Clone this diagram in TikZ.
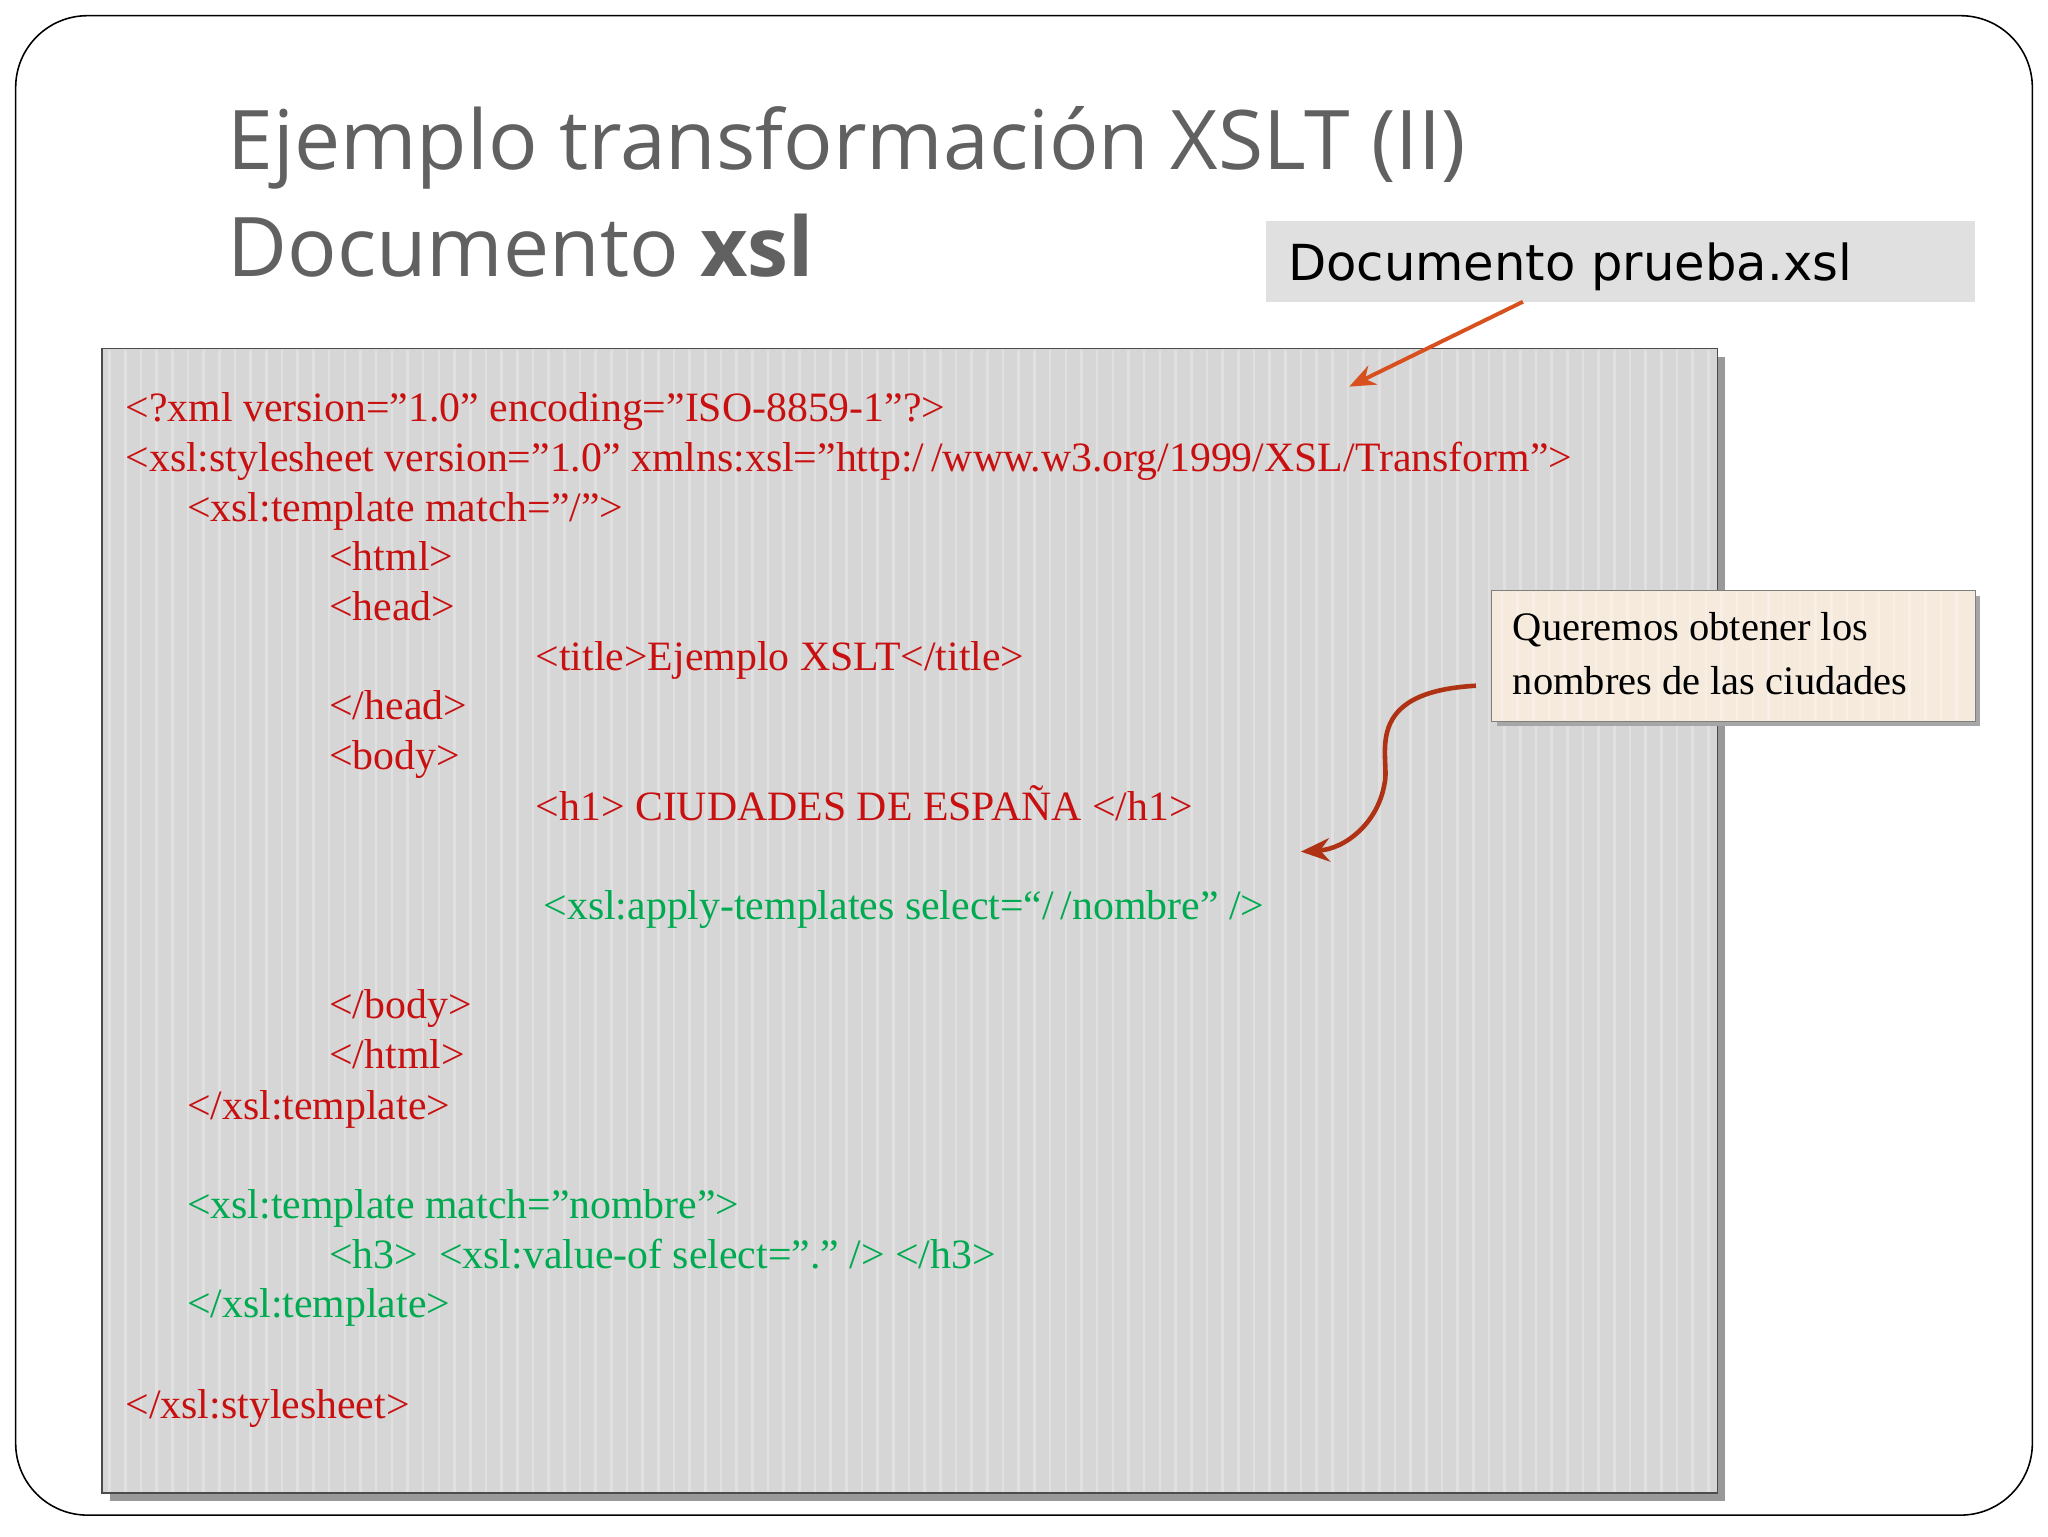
\documentclass[tikz,border=0pt]{standalone}
\usepackage{fontspec}
\setmainfont{Liberation Serif}[Ligatures=ResetAll]
\newfontfamily\titlefont{Open Sans}
\newfontfamily\boxfont{DejaVu Sans}
\usetikzlibrary{arrows.meta}
\definecolor{codered}{RGB}{200,16,16}
\definecolor{codegreen}{RGB}{0,170,80}
\definecolor{arrorange}{RGB}{215,80,30}
\definecolor{arrdark}{RGB}{175,50,20}
\definecolor{beige}{RGB}{245,234,220}
\begin{document}
\begin{tikzpicture}[x=1pt,y=-1pt,
  code/.style={anchor=base west,inner sep=0pt,font=\fontsize{32}{34}\selectfont},
  red/.style={code,text=codered},
  grn/.style={code,text=codegreen}]
\useasboundingbox (0,0) rectangle (1568,1176);
\fill[white] (0,0) rectangle (1568,1176);
\draw[line width=1.2pt,rounded corners=55pt] (12,12) rectangle (1556,1160);
\node[anchor=base west,inner sep=0pt,text=black!62,font=\titlefont\fontsize{63}{70}\selectfont] (t1) at (174,130) {Ejemplo transformación XSLT (II)};
\node[anchor=base west,inner sep=0pt,text=black!62,font=\titlefont\fontsize{63}{70}\selectfont] (t2) at (174,212) {Documento \textbf{xsl}};
% code box
\fill[black!40] (84,273) rectangle (1321,1149);
\fill[black!16] (78,267) rectangle (1315,1143);
\foreach \x in {84,96,...,1310} {\draw[white,opacity=0.25,line width=2pt] (\x,268) -- (\x,1142);}
\draw[black!70,line width=1pt] (78,267) rectangle (1315,1143);
\node[red] (l1) at (96,323) {<?xml version="1.0" encoding="ISO-8859-1"?>};
\node[red] (l2) at (96,361) {<xsl:stylesheet version="1.0" xmlns:xsl="http:/\,/www.w3.org/1999/XSL/Transform">};
\node[red] (l3) at (143,399) {<xsl:template match="/">};
\node[red] (l4) at (252,437) {<html>};
\node[red] (l5) at (252,475) {<head>};
\node[red] (l6) at (410,513) {<title>Ejemplo XSLT</title>};
\node[red] (l7) at (252,551) {</head>};
\node[red] (l8) at (252,589) {<body>};
\node[red] (l9) at (410,628) {<h1> CIUDADES DE ESPAÑA </h1>};
\node[grn] (l10) at (416,704) {<xsl:apply-templates select=“/\,/nombre" />};
\node[red] (l11) at (252,780) {</body>};
\node[red] (l12) at (252,818) {</html>};
\node[red] (l13) at (143,857) {</xsl:template>};
\node[grn] (l14) at (143,933) {<xsl:template match="nombre">};
\node[grn] (l15) at (252,971) {<h3>\ \ <xsl:value-of select="." /> </h3>};
\node[grn] (l16) at (143,1009) {</xsl:template>};
\node[red] (l17) at (96,1086) {</xsl:stylesheet>};
% doc label
\fill[black!12] (969,169) rectangle (1512,231);
\node[anchor=base west,inner sep=0pt,font=\boxfont\fontsize{38}{40}\selectfont] (doc) at (986,215) {Documento prueba.xsl};
\coordinate (a1s) at (1166,231);
\coordinate (a1e) at (1033,296);
\draw[arrorange,line width=3pt,-{Stealth[length=20pt,width=16pt]}] (a1s) -- (a1e);
% callout
\fill[black!35] (1146,456) rectangle (1516,556);
\fill[beige] (1142,452) rectangle (1512,552);
\foreach \x in {1150,1162,...,1506} {\draw[white,opacity=0.3,line width=2pt] (\x,453) -- (\x,551);}
\draw[black!50] (1142,452) rectangle (1512,552);
\node[anchor=base west,inner sep=0pt,font=\fontsize{31}{34}\selectfont] (c1) at (1158,490) {Queremos obtener los};
\node[anchor=base west,inner sep=0pt,font=\fontsize{31}{34}\selectfont] (c2) at (1158,532) {nombres de las ciudades};
\coordinate (a2s) at (1130,525);
\coordinate (a2e) at (996,652);
\draw[arrdark,line width=3.5pt,-{Stealth[length=22pt,width=18pt]}] (a2s) .. controls (1040,530) and (1065,580) .. (1060,600) .. controls (1055,630) and (1030,650) .. (a2e);
\end{tikzpicture}
\end{document}
